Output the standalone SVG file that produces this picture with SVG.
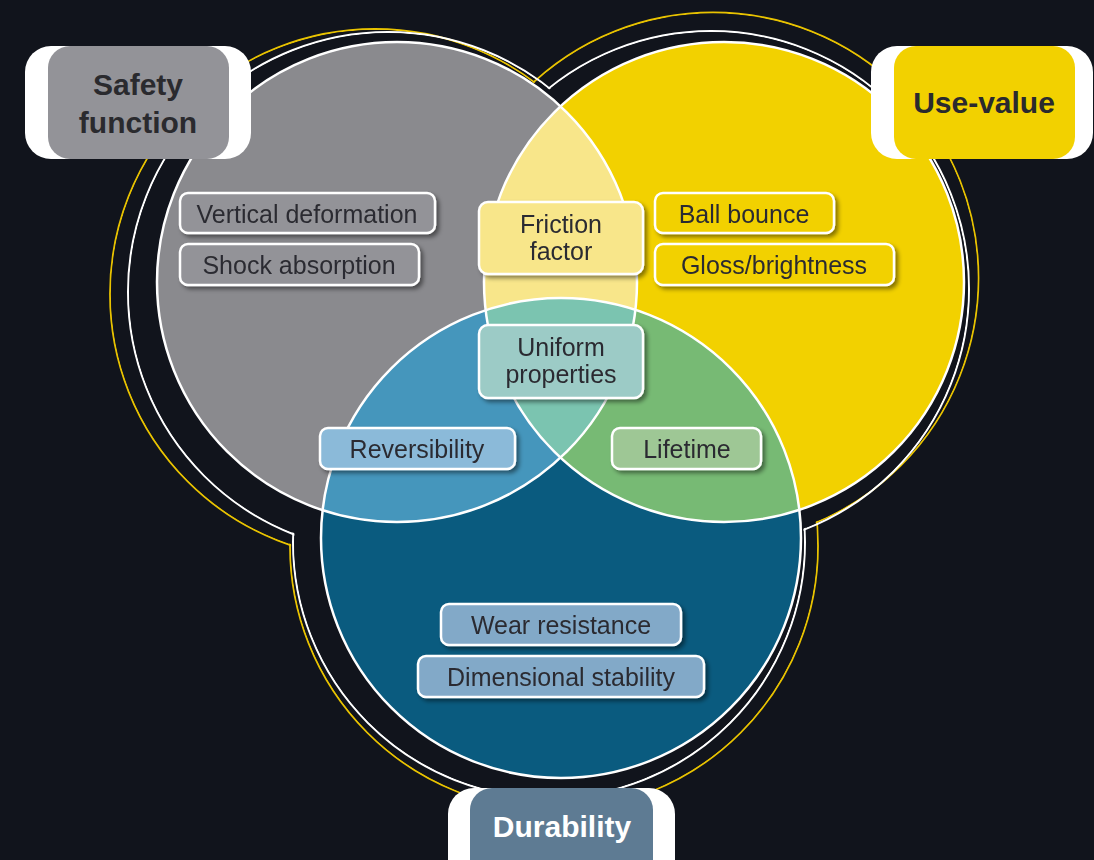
<svg xmlns="http://www.w3.org/2000/svg" width="1094" height="860" viewBox="0 0 1094 860">
<defs>
<style>
.t{font-family:"Liberation Sans",Arial,Helvetica,sans-serif;fill:#2c2c31;font-size:25px;text-anchor:middle}
.big{font-family:"Liberation Sans",Arial,Helvetica,sans-serif;font-size:30px;font-weight:bold;text-anchor:middle;fill:#2a2a2e}
.box{stroke:#ffffff;stroke-width:2.5}
.edge{fill:none;stroke:#ffffff;stroke-width:2.5}
.wr{fill:none;stroke:#ffffff;stroke-width:2}
.yr{fill:none;stroke:#e9c300;stroke-width:1.8}
</style>
<filter id="sh" x="-20%" y="-30%" width="140%" height="170%">
<feDropShadow dx="3" dy="3" stdDeviation="2" flood-color="#000" flood-opacity="0.45"/>
</filter>
<clipPath id="cG"><circle cx="397" cy="282" r="240"/></clipPath>
<clipPath id="cY"><circle cx="724" cy="282" r="240"/></clipPath>
<mask id="mW" maskUnits="userSpaceOnUse" x="0" y="0" width="1094" height="860">
<rect width="1094" height="860" fill="#fff"/>
<circle cx="388" cy="292" r="258.8" fill="#000"/>
<circle cx="711" cy="289" r="256.8" fill="#000"/>
<circle cx="549" cy="542" r="254.8" fill="#000"/>
</mask>
<mask id="mY" maskUnits="userSpaceOnUse" x="0" y="0" width="1094" height="860">
<rect width="1094" height="860" fill="#fff"/>
<circle cx="375" cy="294" r="263.9" fill="#000"/>
<circle cx="713" cy="278" r="264.4" fill="#000"/>
<circle cx="554" cy="546" r="262.9" fill="#000"/>
</mask>
</defs>
<rect width="1094" height="860" fill="#11141c"/>

<g id="outer-rings">
<g mask="url(#mY)">
<circle class="yr" cx="375" cy="294" r="265"/>
<circle class="yr" cx="713" cy="278" r="265.5"/>
<circle class="yr" cx="554" cy="546" r="264"/>
</g>
<g mask="url(#mW)">
<circle class="wr" cx="388" cy="292" r="260"/>
<circle class="wr" cx="711" cy="289" r="258"/>
<circle class="wr" cx="549" cy="542" r="256"/>
</g>
</g>

<g id="circles">
<circle id="safety-circle" cx="397" cy="282" r="240" fill="#8a8a8e"/>
<circle id="use-circle" cx="724" cy="282" r="240" fill="#f2d100"/>
<circle id="durability-circle" cx="561" cy="538" r="240" fill="#0a5b7f"/>
<circle cx="724" cy="282" r="240" fill="#f8e68a" clip-path="url(#cG)"/>
<circle cx="561" cy="538" r="240" fill="#4596bc" clip-path="url(#cG)"/>
<circle cx="561" cy="538" r="240" fill="#77ba74" clip-path="url(#cY)"/>
<g clip-path="url(#cY)"><circle cx="561" cy="538" r="240" fill="#7bc4b0" clip-path="url(#cG)"/></g>
<circle class="edge" cx="397" cy="282" r="240"/>
<circle class="edge" cx="724" cy="282" r="240"/>
<circle class="edge" cx="561" cy="538" r="240"/>
</g>

<g id="label-safety">
<rect x="25" y="46" width="226" height="113" rx="26" fill="#ffffff"/>
<rect x="48" y="46" width="181" height="113" rx="22" fill="#939398"/>
<text class="big" x="138" y="95">Safety</text>
<text class="big" x="138" y="133">function</text>
</g>
<g id="label-use">
<rect x="871" y="46" width="222" height="113" rx="26" fill="#ffffff"/>
<rect x="894" y="46" width="181" height="113" rx="22" fill="#f2d100"/>
<text class="big" x="984" y="113">Use-value</text>
</g>
<g id="label-durability">
<rect x="448" y="788" width="227" height="113" rx="26" fill="#ffffff"/>
<rect x="470" y="788" width="183" height="113" rx="22" fill="#5e7b93"/>
<text class="big" x="562" y="837" fill="#ffffff" style="fill:#ffffff">Durability</text>
</g>

<g id="node-vertical-deformation" filter="url(#sh)">
<rect class="box" x="180" y="193" width="255" height="40" rx="8" fill="#939398"/>
<text class="t" x="307" y="223">Vertical deformation</text>
</g>
<g id="node-shock-absorption" filter="url(#sh)">
<rect class="box" x="180" y="244" width="239" height="41" rx="8" fill="#939398"/>
<text class="t" x="299" y="274">Shock absorption</text>
</g>
<g id="node-friction-factor" filter="url(#sh)">
<rect class="box" x="479" y="202" width="164" height="72" rx="9" fill="#f8e68a"/>
<text class="t" x="561" y="233">Friction</text>
<text class="t" x="561" y="260">factor</text>
</g>
<g id="node-ball-bounce" filter="url(#sh)">
<rect class="box" x="655" y="193" width="179" height="40" rx="8" fill="#f2d100"/>
<text class="t" x="744" y="223">Ball bounce</text>
</g>
<g id="node-gloss" filter="url(#sh)">
<rect class="box" x="655" y="244" width="239" height="41" rx="8" fill="#f2d100"/>
<text class="t" x="774" y="274">Gloss/brightness</text>
</g>
<g id="node-uniform-properties" filter="url(#sh)">
<rect class="box" x="479" y="325" width="164" height="73" rx="9" fill="#9ccbc6"/>
<text class="t" x="561" y="356">Uniform</text>
<text class="t" x="561" y="383">properties</text>
</g>
<g id="node-reversibility" filter="url(#sh)">
<rect class="box" x="320" y="428" width="195" height="41" rx="8" fill="#8bbad9"/>
<text class="t" x="417" y="458">Reversibility</text>
</g>
<g id="node-lifetime" filter="url(#sh)">
<rect class="box" x="612" y="428" width="149" height="41" rx="8" fill="#9ec795"/>
<text class="t" x="687" y="458">Lifetime</text>
</g>
<g id="node-wear-resistance" filter="url(#sh)">
<rect class="box" x="441" y="604" width="240" height="41" rx="8" fill="#82a9c8"/>
<text class="t" x="561" y="634">Wear resistance</text>
</g>
<g id="node-dimensional-stability" filter="url(#sh)">
<rect class="box" x="418" y="656" width="286" height="41" rx="8" fill="#82a9c8"/>
<text class="t" x="561" y="686">Dimensional stability</text>
</g>
</svg>
